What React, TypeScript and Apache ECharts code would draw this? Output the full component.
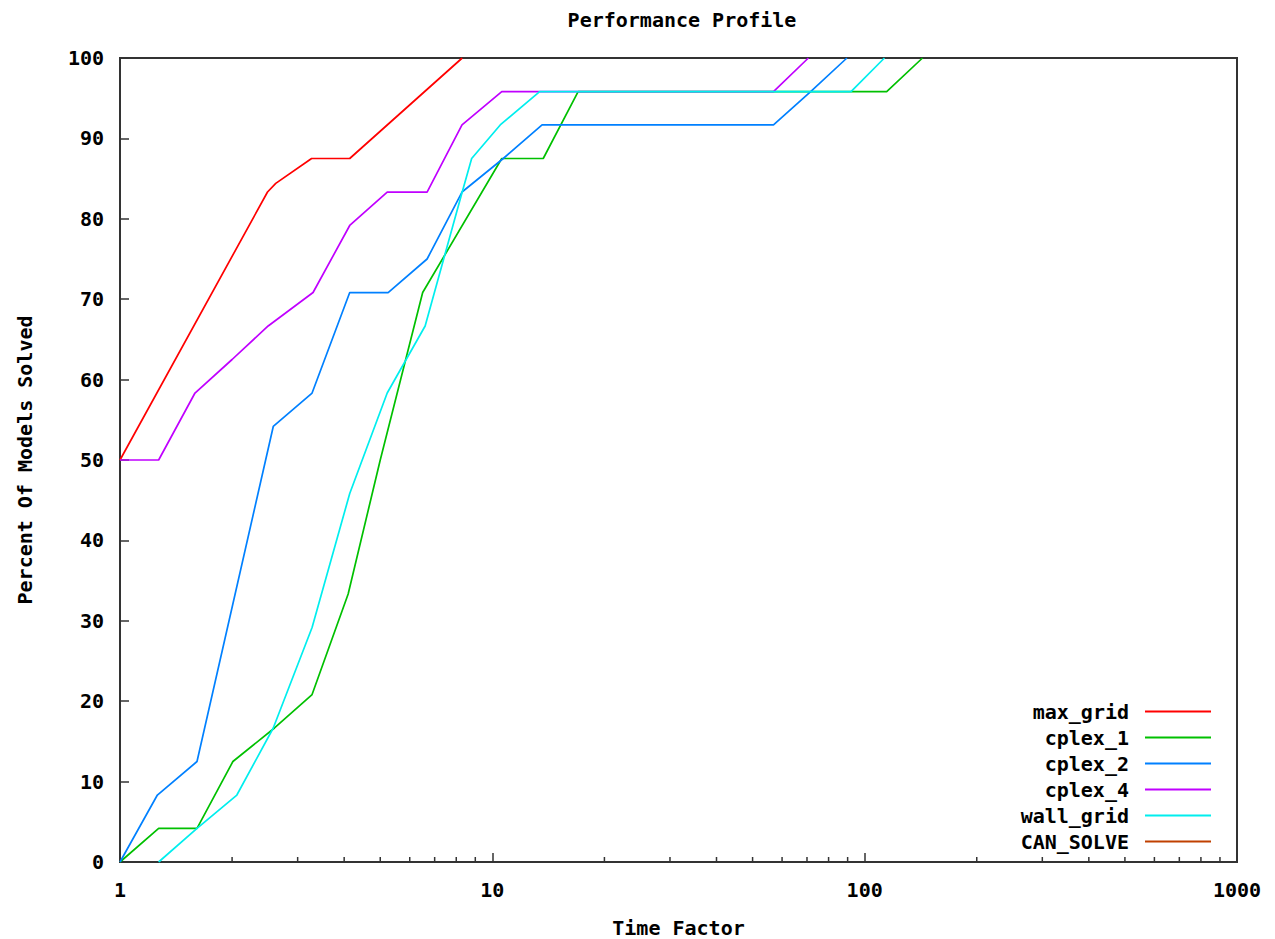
import React, { useEffect, useRef } from "react";
import * as echarts from "echarts";

const seriesNames = ["max_grid", "cplex_1", "cplex_2", "cplex_4", "wall_grid", "CAN_SOLVE"];
const seriesColors = ["#ff0000", "#00c000", "#0080ff", "#c000ff", "#00eeee", "#c04000"];

const maxGrid: number[][] = [[1, 50], [2.49, 83.33], [2.62, 84.4], [3.27, 87.5], [4.14, 87.5], [8.3, 100]];
const cplex1: number[][] = [
  [1, 0], [1.27, 4.17], [1.61, 4.17], [2.01, 12.5], [2.6, 16.67], [3.28, 20.83], [4.1, 33.33],
  [5.0, 50], [6.5, 70.83], [10.6, 87.5], [13.7, 87.5], [17.0, 95.83], [114.6, 95.83], [143, 100],
];
const cplex2: number[][] = [
  [1, 0], [1.26, 8.33], [1.61, 12.5], [2.58, 54.17], [3.28, 58.33], [4.14, 70.83], [5.25, 70.83],
  [6.68, 75], [8.29, 83.33], [10.7, 87.5], [13.6, 91.67], [56.9, 91.67], [71.6, 95.83], [89.6, 100],
];
const cplex4: number[][] = [
  [1, 50], [1.27, 50], [1.59, 58.33], [2.0, 62.5], [2.5, 66.67], [3.3, 70.83], [4.14, 79.17],
  [5.22, 83.33], [6.68, 83.33], [8.29, 91.67], [10.6, 95.83], [13.5, 95.83], [56.9, 95.83], [70.6, 100],
];
const wallGrid: number[][] = [
  [1.27, 0], [1.61, 4.17], [2.06, 8.33], [2.58, 16.67], [3.28, 29.17], [4.14, 45.83], [5.22, 58.33],
  [6.6, 66.67], [8.3, 83.33], [8.8, 87.5], [10.5, 91.67], [13.4, 95.83], [91.9, 95.83], [113, 100],
];
const canSolve: number[][] = [];

const minorTickValues = [2, 3, 4, 5, 6, 7, 8, 9, 20, 30, 40, 50, 60, 70, 80, 90, 200, 300, 400, 500, 600, 700, 800, 900];

const FONT = "'DejaVu Sans Mono', 'Liberation Mono', monospace";
const AXIS_COLOR = "#333333";

export default function App() {
  const ref = useRef<HTMLDivElement>(null);
  useEffect(() => {
    document.body.style.margin = "0";
    const chart = echarts.init(ref.current!, undefined, { renderer: "svg" });
    const allData = [maxGrid, cplex1, cplex2, cplex4, wallGrid, canSolve];
    const lineSeries = seriesNames.map((name, i) => ({
      name,
      type: "line",
      data: allData[i],
      symbol: "none",
      showSymbol: false,
      color: seriesColors[i],
      itemStyle: { color: seriesColors[i] },
      lineStyle: { width: 1.7, color: seriesColors[i] },
      z: 3,
    }));
    chart.setOption({
      animation: false,
      backgroundColor: "#ffffff",
      title: {
        text: "Performance Profile",
        left: 677,
        top: 5,
        textAlign: "center",
        textStyle: { fontFamily: FONT, fontWeight: "bold", fontSize: 20, color: "#000" },
      },
      grid: {
        left: 120,
        top: 58,
        right: 38,
        bottom: 77,
        outerBoundsMode: "none",
        containLabel: false,
        show: true,
        borderColor: AXIS_COLOR,
        borderWidth: 2,
        backgroundColor: "transparent",
      },
      legend: {
        data: seriesNames.map((n) => ({ name: n, icon: "rect" })),
        orient: "vertical",
        right: 59,
        top: 695,
        align: "right",
        itemWidth: 66,
        itemHeight: 2,
        itemGap: 3,
        selectedMode: false,
        textStyle: {
          fontFamily: FONT,
          fontWeight: "bold",
          fontSize: 20,
          color: "#000",
          lineHeight: 23,
          padding: [0, 11, 0, 0],
        },
      },
      xAxis: {
        type: "log",
        logBase: 10,
        min: 1,
        max: 1000,
        name: "Time Factor",
        nameLocation: "middle",
        nameGap: 56,
        nameTextStyle: { fontFamily: FONT, fontWeight: "bold", fontSize: 20, color: "#000" },
        axisLine: { show: true, lineStyle: { color: AXIS_COLOR, width: 2 } },
        axisTick: { show: true, inside: true, length: 9, lineStyle: { color: AXIS_COLOR, width: 1.5 } },
        axisLabel: {
          fontFamily: FONT,
          fontWeight: "bold",
          fontSize: 20,
          color: "#000",
          margin: 18,
          formatter: (v: number) => String(Math.round(v)),
        },
        splitLine: { show: false },
        minorTick: { show: false },
      },
      yAxis: {
        type: "value",
        min: 0,
        max: 100,
        interval: 10,
        name: "Percent Of Models Solved",
        nameLocation: "middle",
        nameGap: 85,
        nameRotate: 90,
        nameTextStyle: { fontFamily: FONT, fontWeight: "bold", fontSize: 20, color: "#000" },
        axisLine: { show: true, lineStyle: { color: AXIS_COLOR, width: 2 } },
        axisTick: { show: true, inside: true, length: 9, lineStyle: { color: AXIS_COLOR, width: 1.5 } },
        axisLabel: { fontFamily: FONT, fontWeight: "bold", fontSize: 20, color: "#000", margin: 16 },
        splitLine: { show: false },
      },
      series: [
        {
          name: "minorTicks",
          type: "custom",
          silent: true,
          clip: false,
          z: 4,
          data: minorTickValues.map((v) => [v, 0]),
          renderItem: (params: any, api: any) => {
            const p = api.coord([api.value(0), 0]);
            return {
              type: "line",
              shape: { x1: p[0], y1: p[1], x2: p[0], y2: p[1] - 5 },
              style: { stroke: AXIS_COLOR, lineWidth: 1.5 },
            };
          },
        },
        ...lineSeries,
      ],
    });
    return () => chart.dispose();
  }, []);
  return <div ref={ref} style={{ width: 1275, height: 939 }} />;
}
